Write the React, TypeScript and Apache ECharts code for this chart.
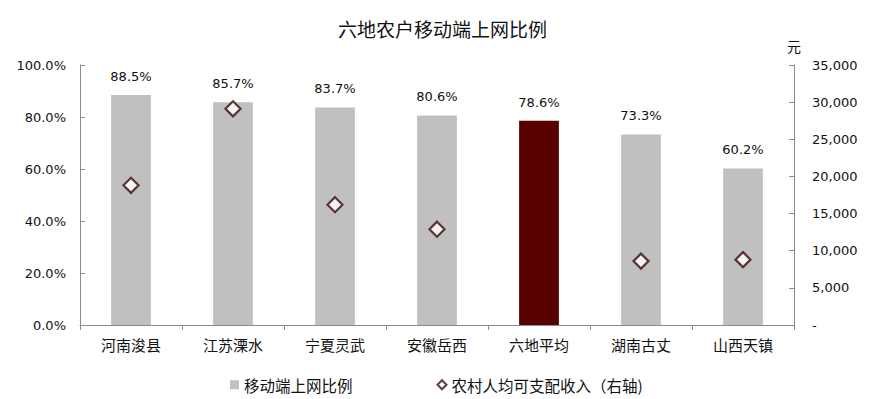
import React, { useEffect, useRef } from "react";
import * as echarts from "echarts";

const categories = ["河南浚县", "江苏溧水", "宁夏灵武", "安徽岳西", "六地平均", "湖南古丈", "山西天镇"];
const mobileRate = [88.5, 85.7, 83.7, 80.6, 78.6, 73.3, 60.2];
const ruralIncome = [18800, 29100, 16200, 12900, null, 8600, 8800];
const highlightCategory = "六地平均";
const leftTicks = [0, 20, 40, 60, 80, 100];
const rightTicks = [0, 5000, 10000, 15000, 20000, 25000, 30000, 35000];

const CJK = '"Noto Sans CJK SC", "Noto Sans", sans-serif';
const NUM = '"DejaVu Sans", sans-serif';

export default function App() {
  const ref = useRef<HTMLDivElement>(null);
  useEffect(() => {
    document.body.style.margin = "0";
    const chart = echarts.init(ref.current!, null, { renderer: "svg" });
    chart.setOption({
      animation: false,
      backgroundColor: "#ffffff",
      title: {
        text: "六地农户移动端上网比例",
        left: "center",
        top: 14,
        textStyle: { fontFamily: CJK, fontSize: 19, fontWeight: "normal", color: "#111" },
      },
      grid: { left: 80, right: 91, top: 65, bottom: 74, containLabel: false },
      legend: {
        left: 225,
        top: 372,
        itemWidth: 9,
        itemHeight: 9,
        itemGap: 84,
        textStyle: { fontFamily: CJK, fontSize: 15.5, color: "#111" },
        data: [
          { name: "移动端上网比例", icon: "rect", itemStyle: { color: "#c0c0c0" } },
          { name: "农村人均可支配收入（右轴)", icon: "diamond" },
        ],
      },
      xAxis: {
        type: "category",
        data: categories,
        axisLine: { lineStyle: { color: "#8c8c8c", width: 1 } },
        axisTick: { show: true, alignWithLabel: false, length: 5, lineStyle: { color: "#8c8c8c" } },
        axisLabel: { fontFamily: CJK, fontSize: 15, color: "#111", margin: 12 },
      },
      yAxis: [
        {
          type: "value",
          min: leftTicks[0],
          max: leftTicks[leftTicks.length - 1],
          interval: leftTicks[1] - leftTicks[0],
          splitLine: { show: false },
          axisLine: { show: true, lineStyle: { color: "#8c8c8c" } },
          axisTick: { show: true, inside: true, length: 5, lineStyle: { color: "#8c8c8c" } },
          axisLabel: {
            fontFamily: NUM,
            fontSize: 13,
            color: "#111",
            margin: 14,
            formatter: (v: number) => v.toFixed(1) + "%",
          },
        },
        {
          type: "value",
          name: "元",
          nameLocation: "end",
          nameGap: 12,
          nameTextStyle: { fontFamily: CJK, fontSize: 14, color: "#111", align: "center" },
          min: rightTicks[0],
          max: rightTicks[rightTicks.length - 1],
          interval: rightTicks[1] - rightTicks[0],
          splitLine: { show: false },
          axisLine: { show: true, lineStyle: { color: "#8c8c8c" } },
          axisTick: { show: true, inside: true, length: 5, lineStyle: { color: "#8c8c8c" } },
          axisLabel: {
            fontFamily: NUM,
            fontSize: 13,
            color: "#111",
            margin: 18,
            formatter: (v: number) => (v === 0 ? "-" : v.toLocaleString("en-US")),
          },
        },
      ],
      series: [
        {
          name: "移动端上网比例",
          type: "bar",
          barWidth: "39%",
          yAxisIndex: 0,
          itemStyle: { color: "#c0c0c0" },
          label: {
            show: true,
            position: "top",
            distance: 12,
            fontFamily: NUM,
            fontSize: 13,
            color: "#111",
            formatter: (p: any) => Number(p.value).toFixed(1) + "%",
          },
          data: mobileRate.map((v, i) =>
            categories[i] === highlightCategory
              ? { value: v, itemStyle: { color: "#580000" } }
              : v
          ),
        },
        {
          name: "农村人均可支配收入（右轴)",
          type: "scatter",
          yAxisIndex: 1,
          symbol: "diamond",
          symbolSize: 15,
          itemStyle: { color: "#ffffff", borderColor: "#3d0a0a", borderWidth: 2.2 },
          data: ruralIncome,
          z: 5,
        },
      ],
    });
    return () => chart.dispose();
  }, []);
  return <div ref={ref} style={{ width: 885, height: 399 }} />;
}
